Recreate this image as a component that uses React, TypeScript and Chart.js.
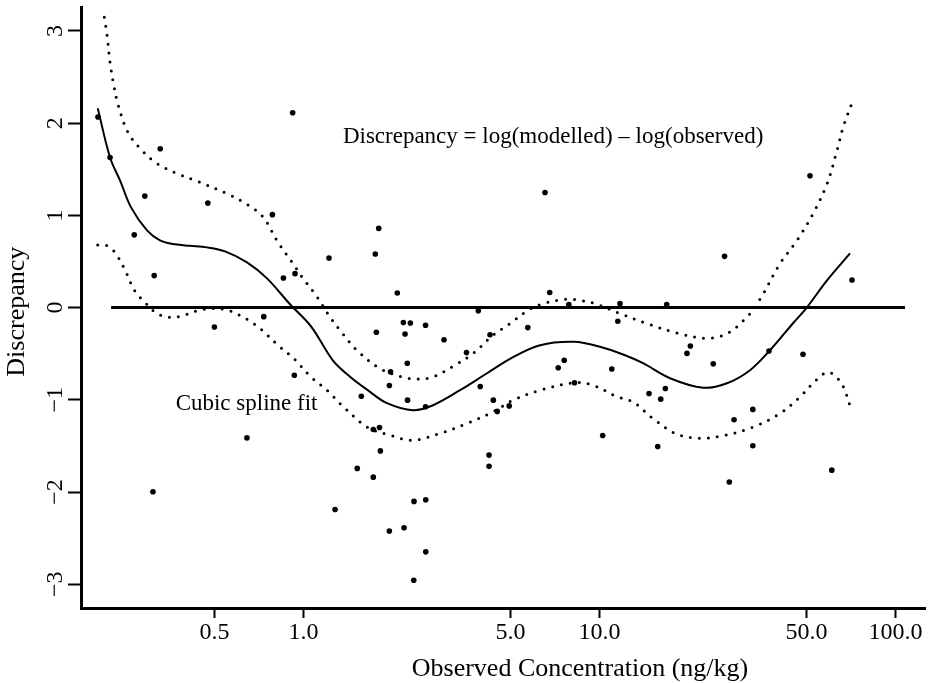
import React, { useEffect, useRef } from "react";
import { Chart, registerables } from "chart.js";

Chart.register(...registerables);

const FONT = '"Liberation Serif", "Times New Roman", serif';

// Axis ticks
const X_TICKS = [0.5, 1, 5, 10, 50, 100];
const Y_TICKS = [-3, -2, -1, 0, 1, 2, 3];
const X_MIN = 0.1771;
const X_MAX = 125.8;
const Y_MIN = -3.258;
const Y_MAX = 3.26;

const X_TITLE = "Observed Concentration (ng/kg)";
const Y_TITLE = "Discrepancy";

// Observed points
const OBS_X = [0.202, 0.222, 0.268, 0.291, 0.313, 0.310, 0.328, 0.475, 0.500, 0.644, 0.734, 0.785, 0.855, 0.919, 0.936, 0.931, 1.219, 1.278, 1.519, 1.568, 1.721, 1.721, 1.748, 1.762, 1.795, 1.806, 1.818, 1.950, 1.950, 1.968, 2.074, 2.174, 2.186, 2.203, 2.242, 2.246, 2.296, 2.357, 2.362, 2.584, 2.584, 2.588, 2.588, 2.983, 3.553, 3.895, 3.954, 4.234, 4.234, 4.267, 4.378, 4.513, 4.954, 5.725, 6.545, 6.789, 7.253, 7.599, 7.877, 8.233, 10.25, 11.00, 11.53, 11.73, 14.70, 15.73, 16.10, 16.69, 16.87, 19.75, 20.27, 24.22, 26.45, 27.45, 28.48, 32.96, 32.96, 37.37, 48.70, 51.42, 60.93, 71.29];
const OBS_Y = [2.067, 1.628, 0.789, 1.209, 0.347, -1.998, 1.723, 1.133, -0.210, -1.413, -0.098, 1.008, 0.321, 2.113, 0.368, -0.733, 0.537, -2.189, -1.744, -0.961, -1.322, -1.839, 0.581, -0.268, 0.859, -1.300, -1.554, -0.845, -2.424, -0.696, 0.158, -0.163, -2.388, -0.286, -0.603, -1.004, -0.167, -2.957, -2.102, -0.192, -1.075, -2.084, -2.649, -0.349, -0.488, -0.035, -0.855, -1.600, -1.722, -0.295, -1.004, -1.126, -1.066, -0.217, 1.249, 0.163, -0.652, -0.571, 0.033, -0.815, -1.387, -0.666, -0.148, 0.043, -0.931, -1.506, -0.993, -0.878, 0.033, -0.497, -0.417, -0.610, 0.556, -1.891, -1.216, -1.104, -1.499, -0.471, -0.506, 1.430, -1.763, 0.299];

// Cubic spline fit
const FIT_X = [0.2017, 0.222, 0.2399, 0.2614, 0.296, 0.3275, 0.368, 0.4136, 0.4721, 0.5429, 0.6443, 0.7528, 0.9002, 1.06, 1.258, 1.436, 1.639, 1.915, 2.344, 2.739, 3.379, 4.169, 5.104, 6.295, 8.202, 10.04, 12.2, 14.03, 17.31, 22.37, 26.96, 32.25, 37.67, 45.05, 50.23, 58.7, 70.2];
const FIT_Y = [2.163, 1.628, 1.379, 1.087, 0.837, 0.729, 0.686, 0.670, 0.653, 0.610, 0.491, 0.317, 0.036, -0.203, -0.575, -0.750, -0.890, -1.037, -1.113, -1.059, -0.896, -0.712, -0.538, -0.408, -0.371, -0.425, -0.517, -0.603, -0.766, -0.869, -0.820, -0.679, -0.463, -0.170, 0.003, 0.296, 0.588];

// Upper band
const UP_X = [0.2123, 0.2168, 0.222, 0.229, 0.2362, 0.2553, 0.2847, 0.32, 0.3738, 0.44, 0.5514, 0.6443, 0.7297, 0.8201, 0.9146, 0.9961, 1.102, 1.229, 1.328, 1.516, 1.813, 2.151, 2.418, 2.739, 3.2, 3.737, 4.367, 4.985, 5.734, 6.444, 7.645, 8.594, 9.808, 11.73, 14.47, 18.27, 23.08, 26.96, 31.5, 34.85, 40.72, 46.47, 52.63, 58.7, 63.45, 66.47, 70.74];
const UP_Y = [3.148, 2.961, 2.658, 2.398, 2.203, 1.899, 1.704, 1.563, 1.455, 1.368, 1.235, 1.119, 0.982, 0.707, 0.491, 0.317, 0.133, -0.102, -0.246, -0.463, -0.661, -0.752, -0.774, -0.752, -0.636, -0.498, -0.300, -0.173, -0.029, 0.043, 0.090, 0.079, 0.036, -0.065, -0.173, -0.275, -0.333, -0.282, -0.102, 0.090, 0.477, 0.729, 1.018, 1.343, 1.704, 1.953, 2.192];

// Lower band
const LO_X = [0.2017, 0.2152, 0.2272, 0.2344, 0.2484, 0.2686, 0.2903, 0.32, 0.3513, 0.3856, 0.4366, 0.4947, 0.5557, 0.6443, 0.7184, 0.8201, 0.9288, 1.06, 1.219, 1.328, 1.639, 1.96, 2.344, 2.891, 3.567, 4.367, 5.104, 6.295, 8.202, 9.507, 11.46, 12.98, 15.16, 18.27, 21.86, 26.14, 33.01, 40.72, 47.58, 53.87, 59.16, 64.94, 68.05, 69.93];
const LO_Y = [0.680, 0.675, 0.621, 0.567, 0.420, 0.187, 0.061, -0.065, -0.105, -0.094, -0.035, -0.011, -0.029, -0.127, -0.235, -0.408, -0.555, -0.752, -0.914, -1.040, -1.294, -1.384, -1.438, -1.365, -1.257, -1.131, -1.004, -0.896, -0.815, -0.842, -0.966, -1.023, -1.203, -1.373, -1.416, -1.389, -1.297, -1.148, -0.969, -0.788, -0.701, -0.798, -0.932, -1.048];

// Zero reference line
const ZERO_X = [0.2238, 107.7];
const ZERO_Y = [0, 0];

// Annotations (data coordinates)
const NOTE_TEXTS = ["Discrepancy = log(modelled) \u2013 log(observed)", "Cubic spline fit"];
const NOTE_X = [6.97, 0.642];
const NOTE_Y = [1.848, -1.05];

const pts = (xs: number[], ys: number[]) => xs.map((x, i) => ({ x, y: ys[i] }));
const fmtY = (v: number) => (v < 0 ? "\u2212" + Math.abs(v) : String(v));

export default function App() {
  const ref = useRef<HTMLCanvasElement>(null);

  useEffect(() => {
    const canvas = ref.current;
    if (!canvas) return;

    const textPlugin = {
      id: "texts",
      afterDraw(chart: any) {
        const ctx = chart.ctx as CanvasRenderingContext2D;
        const xs = chart.scales.x;
        const ys = chart.scales.y;
        ctx.save();
        ctx.fillStyle = "#000";
        ctx.textAlign = "center";
        ctx.textBaseline = "alphabetic";
        ctx.font = `24px ${FONT}`;
        Y_TICKS.forEach((v) => {
          const py = ys.getPixelForValue(v);
          ctx.save();
          ctx.translate(62, py);
          ctx.rotate(-Math.PI / 2);
          ctx.fillText(fmtY(v), 0, 0);
          ctx.restore();
        });
        ctx.font = `26px ${FONT}`;
        ctx.save();
        ctx.translate(24, 311.7);
        ctx.rotate(-Math.PI / 2);
        ctx.fillText(Y_TITLE, 0, 0);
        ctx.restore();
        ctx.fillText(X_TITLE, 580, 676);
        ctx.font = `23px ${FONT}`;
        ctx.textBaseline = "middle";
        NOTE_TEXTS.forEach((t, i) => {
          ctx.fillText(t, xs.getPixelForValue(NOTE_X[i]), ys.getPixelForValue(NOTE_Y[i]));
        });
        ctx.restore();
      },
    };

    const lineBase = {
      showLine: true,
      pointRadius: 0,
      borderColor: "#000",
      backgroundColor: "#000",
      fill: false,
      tension: 0.35,
    };

    const chart = new Chart(canvas, {
      type: "scatter",
      data: {
        datasets: [
          { ...lineBase, label: "zero", data: pts(ZERO_X, ZERO_Y), borderWidth: 3, tension: 0 },
          { ...lineBase, label: "upper", data: pts(UP_X, UP_Y), borderWidth: 3, borderDash: [0, 9], borderCapStyle: "round" as const },
          { ...lineBase, label: "lower", data: pts(LO_X, LO_Y), borderWidth: 3, borderDash: [0, 9], borderCapStyle: "round" as const },
          { ...lineBase, label: "fit", data: pts(FIT_X, FIT_Y), borderWidth: 2 },
          {
            label: "observed",
            data: pts(OBS_X, OBS_Y),
            showLine: false,
            pointRadius: 2.8,
            pointBorderWidth: 0,
            pointBackgroundColor: "#000",
            backgroundColor: "#000",
            borderColor: "#000",
          },
        ],
      },
      options: {
        responsive: false,
        animation: false,
        devicePixelRatio: 1,
        events: [],
        layout: { padding: { top: 7, right: 8, left: 0, bottom: 0 } },
        plugins: { legend: { display: false }, tooltip: { enabled: false } },
        scales: {
          x: {
            type: "logarithmic",
            min: X_MIN,
            max: X_MAX,
            afterBuildTicks: (s: any) => {
              s.ticks = X_TICKS.map((value) => ({ value }));
            },
            afterFit: (s: any) => {
              s.height = 75;
            },
            ticks: {
              autoSkip: false,
              maxRotation: 0,
              minRotation: 0,
              padding: 0,
              color: "#000",
              font: { family: FONT, size: 24 },
              callback: (v: any) => Number(v).toFixed(1),
            },
            grid: { drawOnChartArea: false, drawTicks: true, tickLength: 10, tickWidth: 2, tickColor: "#000", color: "#000" },
            border: { display: true, color: "#000", width: 3 },
          },
          y: {
            type: "linear",
            min: Y_MIN,
            max: Y_MAX,
            afterBuildTicks: (s: any) => {
              s.ticks = Y_TICKS.map((value) => ({ value }));
            },
            afterFit: (s: any) => {
              s.width = 81;
            },
            ticks: { display: false },
            grid: { drawOnChartArea: false, drawTicks: true, tickLength: 13, tickWidth: 2, tickColor: "#000", color: "#000" },
            border: { display: true, color: "#000", width: 3 },
          },
        },
      },
      plugins: [textPlugin],
    });

    return () => chart.destroy();
  }, []);

  return (
    <canvas
      ref={ref}
      width={933}
      height={683}
      style={{ position: "fixed", left: 0, top: 0, width: 933, height: 683, display: "block", background: "#fff" }}
    />
  );
}
